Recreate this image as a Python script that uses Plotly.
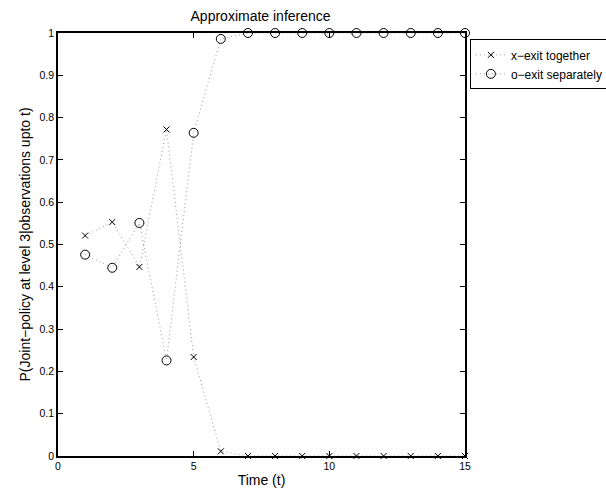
import plotly.graph_objects as go

time = list(range(1, 16))
exit_together = [0.521, 0.553, 0.447, 0.772, 0.234, 0.011, 0.0, 0.0, 0.0, 0.0, 0.0, 0.0, 0.0, 0.0, 0.0]
exit_separately = [0.476, 0.445, 0.551, 0.226, 0.764, 0.986, 1.0, 1.0, 1.0, 1.0, 1.0, 1.0, 1.0, 1.0, 1.0]
y_ticks = [0, 0.1, 0.2, 0.3, 0.4, 0.5, 0.6, 0.7, 0.8, 0.9, 1]
y_tick_text = ["0", "0.1", "0.2", "0.3", "0.4", "0.5", "0.6", "0.7", "0.8", "0.9", "1"]
x_ticks = [0, 5, 10, 15]

FONT = "Liberation Sans, Arial, Helvetica, sans-serif"
LINE = dict(color="#9a9a9a", width=1, dash="1px,3px")

fig = go.Figure()
fig.add_trace(go.Scatter(
    x=time, y=exit_together, mode="lines+markers", name="x\u2212exit together",
    line=LINE,
    marker=dict(symbol="x-thin", size=6, color="black", line=dict(color="black", width=1)),
    cliponaxis=False,
))
fig.add_trace(go.Scatter(
    x=time, y=exit_separately, mode="lines+markers", name="o\u2212exit separately",
    line=LINE,
    marker=dict(symbol="circle-open", size=9, color="black", line=dict(color="black", width=1)),
    cliponaxis=False,
))

fig.update_layout(
    width=606, height=496,
    margin=dict(l=58, r=141, t=33, b=40, autoexpand=False),
    paper_bgcolor="white", plot_bgcolor="white",
    font=dict(family=FONT, size=11, color="black"),
    title=dict(text="Approximate inference", x=0.43, xanchor="center", y=0.978, yanchor="top",
               font=dict(family=FONT, size=14, color="black")),
    showlegend=True,
    legend=dict(x=1.012, y=0.985, xanchor="left", yanchor="top",
                bordercolor="black", borderwidth=1, bgcolor="white",
                font=dict(family=FONT, size=12), tracegroupgap=0,
                itemwidth=30),
)
fig.update_xaxes(
    range=[0, 15], tickvals=x_ticks, ticktext=[str(v) for v in x_ticks],
    showline=True, linecolor="black", linewidth=1.5, mirror="ticks",
    ticks="inside", ticklen=5, tickcolor="black", showgrid=False, zeroline=False,
    title=dict(text="Time (t)", font=dict(family=FONT, size=14), standoff=4),
    tickfont=dict(family=FONT, size=10.5),
)
fig.update_yaxes(
    range=[0, 1], tickvals=y_ticks, ticktext=y_tick_text,
    showline=True, linecolor="black", linewidth=1.5, mirror="ticks",
    ticks="inside", ticklen=5, tickcolor="black", showgrid=False, zeroline=False,
    title=dict(text="P(Joint\u2212policy at level 3|observations upto t)", font=dict(family=FONT, size=14), standoff=6),
    tickfont=dict(family=FONT, size=10.5),
)

fig.write_html("out.html", config={"displayModeBar": False},
               post_script="document.body.style.margin='0';")
